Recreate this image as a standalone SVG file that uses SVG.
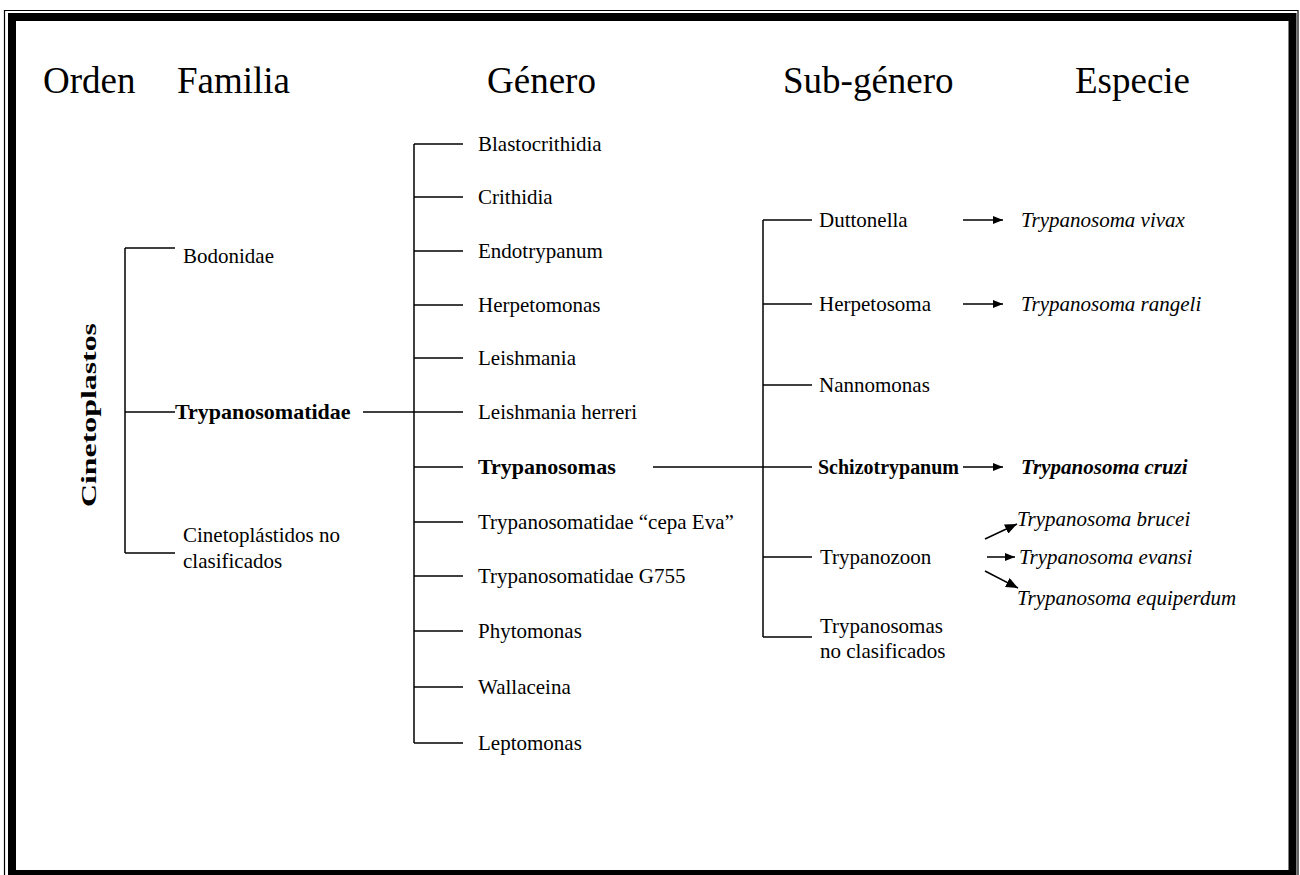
<svg xmlns="http://www.w3.org/2000/svg" width="1300" height="875" viewBox="0 0 1300 875">
<style>
  text { font-family: "Liberation Serif", "Times New Roman", serif; fill: #000; }
  .hdr { font-size: 37px; }
  .t { font-size: 21px; }
  .b { font-size: 22px; font-weight: bold; }
  .i { font-size: 21px; font-style: italic; }
  .bi { font-size: 21px; font-style: italic; font-weight: bold; }
  .ln { stroke: #000; stroke-width: 1.5; fill: none; }
</style>
<defs>
  <marker id="ah" viewBox="0 0 10 8" refX="10" refY="4" markerWidth="10" markerHeight="8" markerUnits="userSpaceOnUse" orient="auto">
    <path d="M0,0 L10,4 L0,8 z" fill="#000"/>
  </marker>
  <marker id="ah2" viewBox="0 0 12 10" refX="12" refY="5" markerWidth="12" markerHeight="10" markerUnits="userSpaceOnUse" orient="auto">
    <path d="M0,0 L12,5 L0,10 z" fill="#000"/>
  </marker>
</defs>
<rect x="0" y="0" width="1300" height="875" fill="#fff"/>
<!-- frame -->
<g id="frame">
  <path d="M4.5,880 L4.5,10.5 L1298,10.5 L1298,880" fill="none" stroke="#000" stroke-width="1.2"/>
  <rect x="12" y="17" width="1280.5" height="857" fill="none" stroke="#000" stroke-width="8"/>
</g>
<!-- headers -->
<g id="headers">
  <text class="hdr" x="43" y="93">Orden</text>
  <text class="hdr" x="177" y="93">Familia</text>
  <text class="hdr" x="487" y="93">Género</text>
  <text class="hdr" x="783" y="93">Sub-género</text>
  <text class="hdr" x="1075" y="93">Especie</text>
</g>
<!-- connectors -->
<g id="connectors" class="ln">
  <!-- order -->
  <line class="ln" x1="125" y1="248" x2="125" y2="553"/>
  <line class="ln" x1="125" y1="248" x2="175" y2="248"/>
  <line class="ln" x1="125" y1="412" x2="175" y2="412"/>
  <line class="ln" x1="125" y1="553" x2="175" y2="553"/>
  <line class="ln" x1="363" y1="412" x2="414" y2="412"/>
  <!-- genus -->
  <line class="ln" x1="414" y1="144" x2="414" y2="743"/>
  <line class="ln" x1="414" y1="144" x2="463" y2="144"/>
  <line class="ln" x1="414" y1="197" x2="463" y2="197"/>
  <line class="ln" x1="414" y1="251" x2="463" y2="251"/>
  <line class="ln" x1="414" y1="305" x2="463" y2="305"/>
  <line class="ln" x1="414" y1="358" x2="463" y2="358"/>
  <line class="ln" x1="414" y1="412" x2="463" y2="412"/>
  <line class="ln" x1="414" y1="467" x2="463" y2="467"/>
  <line class="ln" x1="414" y1="522" x2="463" y2="522"/>
  <line class="ln" x1="414" y1="576" x2="463" y2="576"/>
  <line class="ln" x1="414" y1="631" x2="463" y2="631"/>
  <line class="ln" x1="414" y1="687" x2="463" y2="687"/>
  <line class="ln" x1="414" y1="743" x2="463" y2="743"/>
  <line class="ln" x1="653" y1="467" x2="812" y2="467"/>
  <!-- sub-genus -->
  <line class="ln" x1="763" y1="220" x2="763" y2="637"/>
  <line class="ln" x1="763" y1="220" x2="812" y2="220"/>
  <line class="ln" x1="763" y1="304" x2="812" y2="304"/>
  <line class="ln" x1="763" y1="385" x2="812" y2="385"/>
  <line class="ln" x1="763" y1="557" x2="812" y2="557"/>
  <line class="ln" x1="763" y1="637" x2="812" y2="637"/>
  <!-- species arrows -->
  <line class="ln" x1="963" y1="220" x2="1003" y2="220" marker-end="url(#ah)"/>
  <line class="ln" x1="963" y1="304" x2="1003" y2="304" marker-end="url(#ah)"/>
  <line class="ln" x1="963" y1="467" x2="1003" y2="467" marker-end="url(#ah)"/>
  <line class="ln" x1="985" y1="539" x2="1017" y2="524" marker-end="url(#ah2)"/>
  <line class="ln" x1="987" y1="557" x2="1015" y2="557" marker-end="url(#ah)"/>
  <line class="ln" x1="985" y1="571" x2="1018" y2="588" marker-end="url(#ah2)"/>
</g>
<!-- order node -->
<g id="n-cinetoplastos">
  <text class="b" x="96" y="507" transform="rotate(-90 96 507)" textLength="184" lengthAdjust="spacingAndGlyphs">Cinetoplastos</text>
</g>
<!-- family nodes -->
<g id="n-bodonidae"><text class="t" x="183" y="263">Bodonidae</text></g>
<g id="n-trypanosomatidae"><text class="b" x="175" y="419">Trypanosomatidae</text></g>
<g id="n-cinetoplastidos-nc"><text class="t" x="183" y="542">Cinetoplástidos no</text><text class="t" x="183" y="568">clasificados</text></g>
<!-- genus nodes -->
<g id="n-blastocrithidia"><text class="t" x="478" y="151">Blastocrithidia</text></g>
<g id="n-crithidia"><text class="t" x="478" y="204">Crithidia</text></g>
<g id="n-endotrypanum"><text class="t" x="478" y="258">Endotrypanum</text></g>
<g id="n-herpetomonas"><text class="t" x="478" y="312">Herpetomonas</text></g>
<g id="n-leishmania"><text class="t" x="478" y="365">Leishmania</text></g>
<g id="n-leishmania-herreri"><text class="t" x="478" y="419">Leishmania herreri</text></g>
<g id="n-trypanosomas"><text class="b" x="478" y="474">Trypanosomas</text></g>
<g id="n-cepa-eva"><text class="t" x="478" y="529">Trypanosomatidae “cepa Eva”</text></g>
<g id="n-g755"><text class="t" x="478" y="583">Trypanosomatidae G755</text></g>
<g id="n-phytomonas"><text class="t" x="478" y="638">Phytomonas</text></g>
<g id="n-wallaceina"><text class="t" x="478" y="694">Wallaceina</text></g>
<g id="n-leptomonas"><text class="t" x="478" y="750">Leptomonas</text></g>
<!-- sub-genus nodes -->
<g id="n-duttonella"><text class="t" x="819" y="227">Duttonella</text></g>
<g id="n-herpetosoma"><text class="t" x="819" y="311">Herpetosoma</text></g>
<g id="n-nannomonas"><text class="t" x="819" y="392">Nannomonas</text></g>
<g id="n-schizotrypanum"><text class="b" x="818" y="474" textLength="141" lengthAdjust="spacingAndGlyphs">Schizotrypanum</text></g>
<g id="n-trypanozoon"><text class="t" x="820" y="564">Trypanozoon</text></g>
<g id="n-trypanosomas-nc"><text class="t" x="820" y="633">Trypanosomas</text><text class="t" x="820" y="658">no clasificados</text></g>
<!-- species nodes -->
<g id="n-vivax"><text class="i" x="1021" y="227">Trypanosoma vivax</text></g>
<g id="n-rangeli"><text class="i" x="1021" y="311">Trypanosoma rangeli</text></g>
<g id="n-cruzi"><text class="bi" x="1021" y="474">Trypanosoma cruzi</text></g>
<g id="n-brucei"><text class="i" x="1017" y="526">Trypanosoma brucei</text></g>
<g id="n-evansi"><text class="i" x="1019" y="564">Trypanosoma evansi</text></g>
<g id="n-equiperdum"><text class="i" x="1017" y="605">Trypanosoma equiperdum</text></g>
</svg>
